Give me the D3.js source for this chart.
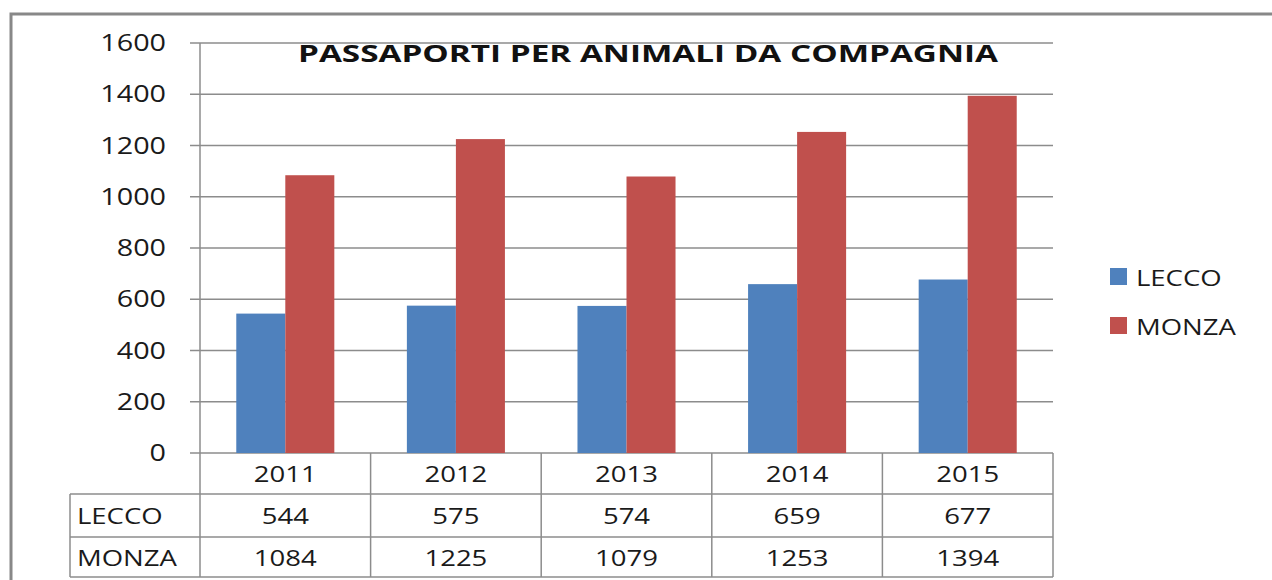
<!DOCTYPE html>
<html><head><meta charset="utf-8">
<script src="https://cdn.jsdelivr.net/npm/d3@7"></script>
<style>body{margin:0;background:#fff}svg{display:block}</style>
</head><body>
<svg id="c" width="1272" height="580"></svg>
<script>
const years = ["2011","2012","2013","2014","2015"];
const seriesNames = ["LECCO","MONZA"];
const lecco = [544,575,574,659,677];
const monza = [1084,1225,1079,1253,1394];
const yTicks = [0,200,400,600,800,1000,1200,1400,1600];
const colors = ["#4F81BD","#C0504D"];
const title = "PASSAPORTI PER ANIMALI DA COMPAGNIA";

const svg = d3.select("#c");
const SX = 1.25;
const FONT = "'Open Sans', sans-serif";
function txt(g, x, y, s, anchor, size, weight){
  return g.append("text").attr("transform",`translate(${x},${y}) scale(${SX},1)`)
    .attr("text-anchor",anchor).attr("font-family",FONT).attr("font-size",size)
    .attr("font-weight",weight||"normal").attr("fill","#1a1a1a").text(s);
}

// frame
svg.append("path").attr("d","M11,590 V14 H1290").attr("fill","none").attr("stroke","#888").attr("stroke-width",3);

const L=200,R=1053,T=43,B=453;
const x = d3.scaleBand().domain(years).range([L,R]);
const xs = d3.scaleBand().domain(seriesNames).range([0,x.bandwidth()]).paddingOuter(0.74).paddingInner(0);
const y = d3.scaleLinear().domain([0,1600]).range([B,T]);

const grid="#8c8c8c";
// gridlines + ticks
svg.append("g").selectAll("line").data(yTicks).join("line")
  .attr("x1",190).attr("x2",R).attr("y1",d=>y(d)).attr("y2",d=>y(d))
  .attr("stroke",grid).attr("stroke-width",1.5);
const yl = svg.append("g");
yTicks.forEach(t=>txt(yl,166,y(t)+8,String(t),"end",23));

// bars
const data = years.map((yr,i)=>({yr, vals:[lecco[i],monza[i]]}));
svg.append("g").selectAll("g").data(data).join("g")
  .attr("transform",d=>`translate(${x(d.yr)},0)`)
  .selectAll("rect").data(d=>d.vals.map((v,j)=>({v,s:seriesNames[j],j})))
  .join("rect")
  .attr("x",d=>xs(d.s)).attr("width",xs.bandwidth())
  .attr("y",d=>y(d.v)).attr("height",d=>B-y(d.v)).attr("fill",d=>colors[d.j]);

// axis line
svg.append("line").attr("x1",L).attr("x2",L).attr("y1",T).attr("y2",577).attr("stroke",grid).attr("stroke-width",1.5);

// data table
const rowY=[453,494,537,577];
const tg = svg.append("g");
[1,2,3].forEach(k=>{
  tg.append("line").attr("x1",70).attr("x2",R).attr("y1",rowY[k]).attr("y2",rowY[k]).attr("stroke",grid).attr("stroke-width",1.5);
});
tg.append("line").attr("x1",70).attr("x2",70).attr("y1",rowY[1]).attr("y2",rowY[3]).attr("stroke",grid).attr("stroke-width",1.5);
years.forEach(yr=>{
  tg.append("line").attr("x1",x(yr)+x.bandwidth()).attr("x2",x(yr)+x.bandwidth()).attr("y1",B).attr("y2",577).attr("stroke",grid).attr("stroke-width",1.5);
});
years.forEach((yr,i)=>{
  const cx = x(yr)+x.bandwidth()/2;
  txt(tg,cx,482,yr,"middle",22);
  txt(tg,cx,524,String(lecco[i]),"middle",22);
  txt(tg,cx,566,String(monza[i]),"middle",22);
});
txt(tg,77,524,seriesNames[0],"start",22);
txt(tg,77,566,seriesNames[1],"start",22);

// title
svg.append("text").attr("x",648).attr("y",62).attr("text-anchor","middle")
  .attr("font-family",FONT).attr("font-weight","bold").attr("font-size",24)
  .attr("textLength",700).attr("lengthAdjust","spacingAndGlyphs").attr("fill","#111").text(title);

// legend
const lg = svg.append("g");
seriesNames.forEach((s,i)=>{
  const ly = 277 + i*49;
  lg.append("rect").attr("x",1110).attr("y",ly-9).attr("width",17).attr("height",17).attr("fill",colors[i]);
  txt(lg,1136,ly+9,s,"start",22);
});
</script>
</body></html>
